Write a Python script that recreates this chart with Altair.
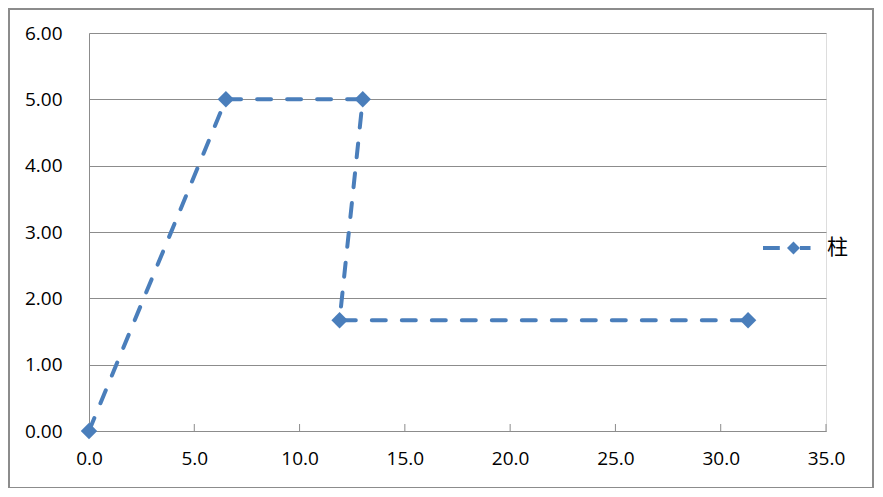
import altair as alt
import pandas as pd

# data
xs = [0.0, 6.5, 13.0, 11.9, 31.3]
ys = [0.0, 5.0, 5.0, 1.67, 1.67]
order = [0, 1, 2, 3, 4]
series = ["柱"] * 5
x_ticks = [0, 5, 10, 15, 20, 25, 30, 35]
y_ticks = [0, 1, 2, 3, 4, 5, 6]

BLUE = "#4a7ebb"
GRAY = "#8c8c8c"
FONT = "Open Sans"
W, H = 737, 398

df = pd.DataFrame({"x": xs, "y": ys, "o": order, "s": series})
tick_df = pd.DataFrame({"x": x_ticks})
one = pd.DataFrame({"a": [0]})

xscale = alt.Scale(domain=[0, 35], nice=False)
yscale = alt.Scale(domain=[0, 6], nice=False)

xaxis = alt.Axis(values=x_ticks, format=".1f", title=None, grid=False,
                 domainColor=GRAY, domainWidth=1, ticks=False,
                 labelFont=FONT, labelFontSize=19, labelColor="#000",
                 labelPadding=18, labelFlush=False)
yaxis = alt.Axis(values=y_ticks, format=".2f", title=None, grid=True,
                 gridColor=GRAY, gridWidth=1, domainColor=GRAY, domainWidth=1,
                 ticks=False, labelFont=FONT, labelFontSize=19, labelColor="#000",
                 labelPadding=27)

base = alt.Chart(df)

line = base.mark_line(color=BLUE, strokeWidth=4, strokeDash=[14, 16],
                      strokeCap="round").encode(
    x=alt.X("x:Q", scale=xscale, axis=xaxis),
    y=alt.Y("y:Q", scale=yscale, axis=yaxis),
    order="o:Q",
)

path = ("M-1,-0.085H-0.3V0.085H-1Z "
        "M0,0L0.27,-0.27L0.54,0L0.27,0.27Z "
        "M0.54,-0.085H0.98V0.085H0.54Z")

points = base.mark_point(shape="diamond", filled=True, size=270, opacity=1,
                         strokeWidth=0).encode(
    x=alt.X("x:Q", scale=xscale),
    y=alt.Y("y:Q", scale=yscale),
    color=alt.Color("s:N", scale=alt.Scale(range=[BLUE]),
                    legend=alt.Legend(title=None, orient="none",
                                      legendX=674, legendY=191,
                                      symbolType=path, symbolSize=2304,
                                      symbolFillColor=BLUE,
                                      symbolStrokeWidth=0,
                                      labelFont="Noto Sans CJK SC",
                                      labelFontSize=21, labelColor="#000",
                                      labelOffset=16, padding=0)),
)

xticks = alt.Chart(tick_df).mark_rule(color=GRAY, strokeWidth=1).encode(
    x=alt.X("x:Q", scale=xscale),
    y=alt.value(H),
    y2=alt.value(H - 7),
)

border = alt.Chart(one).mark_rect(fill=None, stroke=GRAY, strokeWidth=2).encode(
    x=alt.value(-80), x2=alt.value(784), y=alt.value(-24), y2=alt.value(455),
)

chart = alt.layer(border, xticks, line, points).properties(
    width=W, height=H,
    autosize=alt.AutoSizeParams(type="none"),
    padding={"left": 81, "top": 25, "right": 48, "bottom": 57},
).configure_view(stroke=None).configure(background="white")

chart.save("out.html", embed_options={"renderer": "svg", "actions": False})
